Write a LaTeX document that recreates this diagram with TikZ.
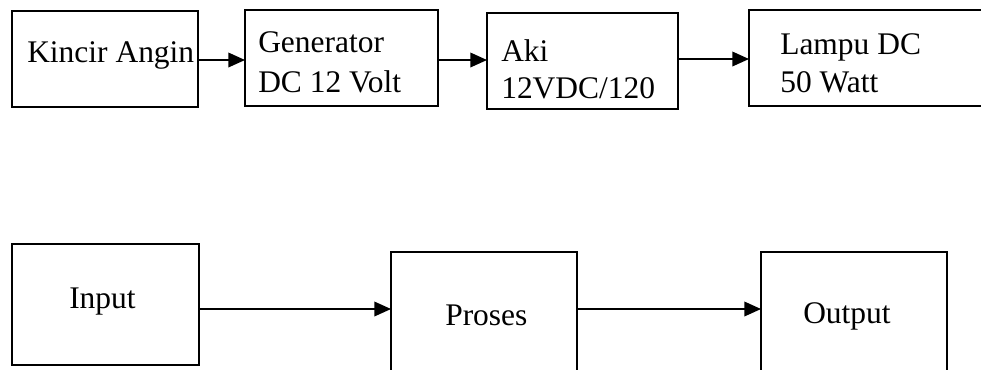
\documentclass[tikz,border=0pt]{standalone}
\usepackage{fontspec}
\setmainfont{Liberation Serif}
\usetikzlibrary{arrows.meta}
\tikzset{
  box/.style={draw, line width=1.5pt, inner sep=0pt, outer sep=0pt},
  lbl/.style={anchor=base west, inner sep=0pt, font=\fontsize{23.6}{28}\selectfont},
  arr/.style={line width=1.1pt, -{Triangle[length=12.5pt,width=11pt]}}
}
\begin{document}
\begin{tikzpicture}[x=0.75pt,y=-0.75pt]
\useasboundingbox (0,0) rectangle (981,369);
\clip (0,0) rectangle (981,369);
% top row
\node[box, minimum width=186*0.75pt, minimum height=96*0.75pt] (kincir) at (105,59) {};
\node[box, minimum width=193*0.75pt, minimum height=96*0.75pt] (gen) at (341.5,58) {};
\node[box, minimum width=191*0.75pt, minimum height=96*0.75pt] (aki) at (582.5,61) {};
\node[box, minimum width=251*0.75pt, minimum height=96*0.75pt] (lampu) at (874.5,58) {};
\node[lbl] (t1) at (27,62) {Kincir Angin};
\node[lbl] (t2) at (258,52) {Generator};
\node[lbl] (t3) at (258,92) {DC 12 Volt};
\node[lbl] (t4) at (501,61) {Aki};
\node[lbl] (t5) at (501,98) {12VDC/120};
\node[lbl] (t6) at (780,54) {Lampu DC};
\node[lbl] (t7) at (780,92) {50 Watt};
\draw[arr] (kincir.east |- 0,60) -- (gen.west |- 0,60);
\draw[arr] (gen.east |- 0,60) -- (aki.west |- 0,60);
\draw[arr] (aki.east |- 0,59) -- (lampu.west |- 0,59);
% bottom row
\node[box, minimum width=187*0.75pt, minimum height=121*0.75pt] (input) at (105.5,304.5) {};
\node[box, minimum width=186*0.75pt, minimum height=128*0.75pt] (proses) at (484,316) {};
\node[box, minimum width=186*0.75pt, minimum height=128*0.75pt] (output) at (854,316) {};
\node[lbl] (b1) at (69,308) {Input};
\node[lbl] (b2) at (445,325) {Proses};
\node[lbl] (b3) at (803,323) {Output};
\draw[arr] (input.east |- 0,309) -- (proses.west |- 0,309);
\draw[arr] (proses.east |- 0,309) -- (output.west |- 0,309);
\end{tikzpicture}
\end{document}
